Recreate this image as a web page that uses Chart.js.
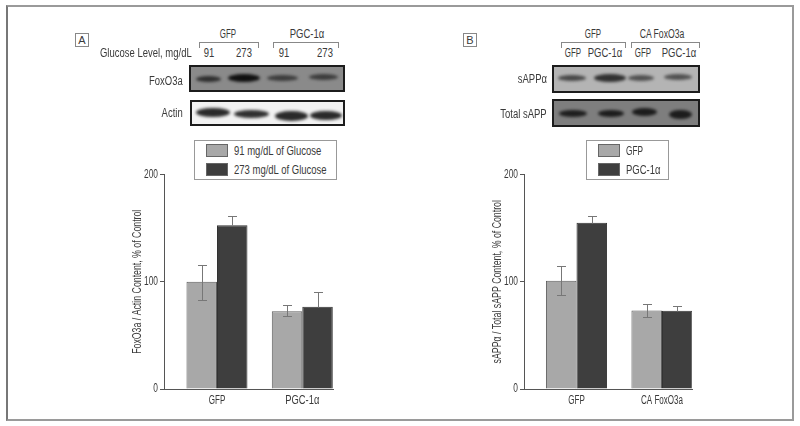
<!DOCTYPE html>
<html lang="en">
<head>
    <meta charset="UTF-8">
    <title>FoxO3a and sAPP content</title>
    <script src="https://cdn.jsdelivr.net/npm/chart.js"></script>
    <style>
        body {
            margin: 0;
            width: 800px;
            height: 426px;
            background: #fff;
            position: relative;
            overflow: hidden;
            font-family: "Liberation Sans", Arial, sans-serif;
            font-size: 12px;
            color: #3a3a3a;
        }
        canvas { position: absolute; }
        .frame { position: absolute; left: 6px; top: 5px; width: 784px; height: 412px; border: 2px solid #9a9a9a; border-left-color: #777; }
        /* no condensed face is installed, so the text is squeezed with --sx */
        .txt { position: absolute; white-space: nowrap; line-height: 12px; height: 12px; transform: scaleX(var(--sx, .79)); transform-origin: left center; }
        .mid { transform: translateX(-50%) scaleX(var(--sx, .79)); transform-origin: center; }
        .end { transform-origin: right center; }
        .panel-tag { position: absolute; width: 12px; height: 12px; border: 1px solid #888; text-align: center; line-height: 12px; font-size: 11px; }
        .bracket { position: absolute; top: 42px; height: 5px; border: 1px solid #888; border-bottom: none; }
        .blot { position: absolute; border: 2px solid #1c1c1c; overflow: hidden; box-sizing: border-box; }
        .band { position: absolute; border-radius: 50%; filter: blur(1.5px); }
        .legend { position: absolute; top: 140px; height: 38px; border: 1px solid #999; background: #fff; }
        .legend i { position: absolute; left: 11px; width: 20px; height: 11px; border: 1px solid #666; }
        .legend span { position: absolute; white-space: nowrap; line-height: 12px; font-size: 12.5px; transform: scaleX(.76); transform-origin: left center; }
    </style>
</head>
<body>
    <div class="frame"></div>

    <!-- panel A header -->
    <div class="panel-tag" style="left:75px;top:33px">A</div>
    <div class="txt mid" style="left:228px;top:28px;--sx:.66">GFP</div>
    <div class="txt mid" style="left:307px;top:28px">PGC-1α</div>
    <div class="bracket" style="left:199px;width:58px"></div>
    <div class="bracket" style="left:273px;width:64px"></div>
    <div class="txt" style="left:100px;top:47px">Glucose Level, mg/dL</div>
    <div class="txt mid" style="left:209px;top:47px">91</div>
    <div class="txt mid" style="left:244px;top:47px">273</div>
    <div class="txt mid" style="left:284px;top:47px">91</div>
    <div class="txt mid" style="left:325px;top:47px">273</div>
    <div class="txt end" style="right:617px;top:75px">FoxO3a</div>
    <div class="txt end" style="right:617px;top:107px">Actin</div>
    <div class="blot" id="blotA1" style="left:189px;top:65px;width:156px;height:27px;background:#8a8a8a"></div>
    <div class="blot" id="blotA2" style="left:190px;top:100px;width:155px;height:26px;background:#f2f2f2"></div>

    <!-- panel B header -->
    <div class="panel-tag" style="left:463px;top:33px">B</div>
    <div class="txt mid" style="left:593px;top:28px;--sx:.66">GFP</div>
    <div class="txt mid" style="left:662px;top:28px;--sx:.72">CA FoxO3a</div>
    <div class="bracket" style="left:561px;width:63px"></div>
    <div class="bracket" style="left:631px;width:67px"></div>
    <div class="txt mid" style="left:573px;top:47px;--sx:.66">GFP</div>
    <div class="txt mid" style="left:605px;top:47px">PGC-1α</div>
    <div class="txt mid" style="left:643px;top:47px;--sx:.66">GFP</div>
    <div class="txt mid" style="left:679px;top:47px">PGC-1α</div>
    <div class="txt end" style="right:253px;top:73px">sAPPα</div>
    <div class="txt end" style="right:253px;top:108px">Total sAPP</div>
    <div class="blot" id="blotB1" style="left:552px;top:65px;width:148px;height:28px;background:#b4b4b4"></div>
    <div class="blot" id="blotB2" style="left:552px;top:99px;width:148px;height:28px;background:#7e7e7e"></div>

    <canvas id="chartA" width="214" height="250" style="left:130px;top:165px"></canvas>
    <canvas id="chartB" width="214" height="250" style="left:490px;top:165px"></canvas>

    <div class="legend" id="legendA" style="left:194px;width:141px"></div>
    <div class="legend" id="legendB" style="left:586px;width:81px"></div>

    <script>
        // panel A
        const categoriesA = ['GFP', 'PGC-1α'];
        const seriesNamesA = ['91 mg/dL of Glucose', '273 mg/dL of Glucose'];
        const lowGlucose = [100, 72.6];
        const highGlucose = [152.7, 76.7];
        const lowGlucoseUp = [115.6, 77.9];
        const lowGlucoseDown = [83, 67.7];
        const highGlucoseUp = [161.4, 90.6];
        const highGlucoseDown = [null, null];   // hidden inside the dark bars
        const titleA = 'FoxO3a / Actin Content, % of Control';

        // panel B
        const categoriesB = ['GFP', 'CA FoxO3a'];
        const seriesNamesB = ['GFP', 'PGC-1α'];
        const gfpValues = [101, 73.3];
        const pgcValues = [154.9, 73];
        const gfpUp = [114.4, 79.1];
        const gfpDown = [88, 67.4];
        const pgcUp = [161.4, 77];
        const pgcDown = [null, null];
        const titleB = 'sAPPα / Total sAPP Content, % of Control';

        const yTicks = [0, 100, 200];

        const lightBar = '#a8a8a8';
        const darkBar = '#3e3e3e';
        const fontStack = '"Liberation Sans", Arial, sans-serif';

        // blots: left, centre y, width, height, shade (picture only, no data)
        const bands = {
            blotA1: [[5, 12, 25, 6, '#2e2e2e'], [37, 11, 32, 8, '#101010'], [76, 11, 31, 6, '#3c3c3c'], [118, 10, 29, 6, '#3c3c3c']],
            blotA2: [[4, 10, 34, 9, '#2a2a2a'], [42, 12, 35, 8, '#303030'], [83, 14, 33, 10, '#2a2a2a'], [118, 13, 32, 9, '#2a2a2a']],
            blotB1: [[4, 11, 28, 6, '#484848'], [40, 11, 32, 8, '#303030'], [74, 11, 26, 6, '#505050'], [110, 10, 28, 6, '#505050']],
            blotB2: [[5, 12, 28, 7, '#1e1e1e'], [44, 12, 26, 7, '#1c1c1c'], [78, 11, 25, 8, '#1c1c1c'], [115, 13, 23, 9, '#1c1c1c']]
        };

        Object.keys(bands).forEach(id => {
            bands[id].forEach(b => {
                const el = document.createElement('div');
                el.className = 'band';
                el.style.left = b[0] + 'px';
                el.style.top = (b[1] - b[3] / 2) + 'px';
                el.style.width = b[2] + 'px';
                el.style.height = b[3] + 'px';
                el.style.background = b[4];
                document.getElementById(id).appendChild(el);
            });
        });

        const errorBars = {
            id: 'errorBars',
            afterDatasetsDraw(chart) {
                const ctx = chart.ctx;
                const y = chart.scales.y;
                ctx.save();
                ctx.strokeStyle = '#777';
                ctx.lineWidth = 1;
                chart.data.datasets.forEach((ds, i) => {
                    chart.getDatasetMeta(i).data.forEach((bar, j) => {
                        const x = Math.round(bar.x) + 0.5;
                        const top = Math.round(y.getPixelForValue(ds.errUp[j])) + 0.5;
                        const hasLow = ds.errDown[j] !== null;
                        const bottom = Math.round(y.getPixelForValue(hasLow ? ds.errDown[j] : ds.data[j].y)) + 0.5;
                        ctx.beginPath();
                        ctx.moveTo(x, top);
                        ctx.lineTo(x, bottom);
                        ctx.moveTo(x - 4.5, top);
                        ctx.lineTo(x + 4.5, top);
                        if (hasLow) {
                            ctx.moveTo(x - 4.5, bottom);
                            ctx.lineTo(x + 4.5, bottom);
                        }
                        ctx.stroke();
                    });
                });
                ctx.restore();
            }
        };

        function makeDataset(label, values, up, down, color, border) {
            return {
                label: label,
                data: values.map((v, i) => ({ x: i, y: v })),
                errUp: up,
                errDown: down,
                backgroundColor: color,
                borderColor: border,
                borderWidth: 1
            };
        }

        // same squeeze as .txt for what the chart writes on its canvas
        function squeezeFor(text) {
            if (text.length > 20) return 0.73;
            if (text === 'PGC-1α') return 0.78;
            return 0.67;
        }

        function drawPanel(canvasId, legendId, cats, names, sets, title, xMin, xMax, paddingRight) {
            const ctx = document.getElementById(canvasId).getContext('2d');
            const plainFillText = ctx.fillText.bind(ctx);
            ctx.fillText = (text, x, y) => {
                ctx.save();
                ctx.translate(x, y);
                ctx.scale(squeezeFor(String(text)), 1);
                plainFillText(text, 0, 0);
                ctx.restore();
            };

            new Chart(ctx, {
                type: 'bar',
                data: {
                    datasets: [
                        makeDataset(names[0], sets[0], sets[1], sets[2], lightBar, '#5e5e5e'),
                        makeDataset(names[1], sets[3], sets[4], sets[5], darkBar, '#333')
                    ]
                },
                options: {
                    responsive: false,
                    animation: false,
                    categoryPercentage: 0.715,
                    barPercentage: 1,
                    layout: { padding: { top: 9, right: paddingRight, left: 0, bottom: 0 } },
                    plugins: { legend: { display: false }, tooltip: { enabled: false } },
                    scales: {
                        x: {
                            type: 'linear',
                            bounds: 'data',
                            offset: false,
                            min: xMin,
                            max: xMax,
                            afterBuildTicks: axis => { axis.ticks = cats.map((c, i) => ({ value: i })); },
                            afterFit: axis => { axis.height = 26; },
                            grid: { display: false, drawTicks: false },
                            border: { display: true, color: '#555', width: 1 },
                            ticks: {
                                autoSkip: false,
                                maxRotation: 0,
                                padding: 4,
                                color: '#3a3a3a',
                                font: { family: fontStack, size: 12 },
                                callback: value => cats[value]
                            }
                        },
                        y: {
                            min: 0,
                            max: 200,
                            afterBuildTicks: axis => { axis.ticks = yTicks.map(v => ({ value: v })); },
                            afterFit: axis => { axis.width = 34; },
                            grid: { display: true, drawOnChartArea: false, drawTicks: true, tickLength: 4, color: '#555' },
                            border: { display: true, color: '#555', width: 1 },
                            ticks: {
                                padding: 2,
                                color: '#3a3a3a',
                                font: { family: fontStack, size: 12.5 }
                            },
                            title: {
                                display: true,
                                text: title,
                                color: '#3a3a3a',
                                padding: { top: 0, bottom: 0 },
                                font: { family: fontStack, size: 12 }
                            }
                        }
                    }
                },
                plugins: [errorBars]
            });

            // legend box from the series names
            const box = document.getElementById(legendId);
            names.forEach((name, i) => {
                const top = i === 0 ? 3 : 22;
                const squeeze = name === 'GFP' ? ';transform:scaleX(.66)' : '';
                box.innerHTML += '<i style="top:' + top + 'px;background:' + (i === 0 ? lightBar : darkBar) + '"></i>' +
                    '<span style="left:39px;top:' + (top + 1) + 'px' + squeeze + '">' + name + '</span>';
            });
        }

        drawPanel('chartA', 'legendA', categoriesA, seriesNamesA,
            [lowGlucose, lowGlucoseUp, lowGlucoseDown, highGlucose, highGlucoseUp, highGlucoseDown],
            titleA, -0.621, 1.36, 11);
        drawPanel('chartB', 'legendB', categoriesB, seriesNamesB,
            [gfpValues, gfpUp, gfpDown, pgcValues, pgcUp, pgcDown],
            titleB, -0.614, 1.351, 12);
    </script>
</body>
</html>
